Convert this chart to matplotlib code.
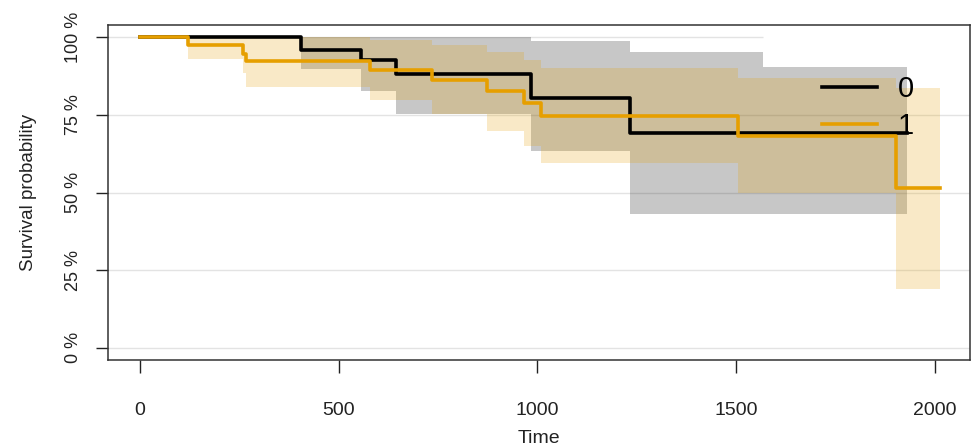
import matplotlib
matplotlib.use("Agg")
import matplotlib.pyplot as plt
from matplotlib.lines import Line2D

plt.rcParams['font.family'] = ['Liberation Sans', 'DejaVu Sans']

# ---- data ----
groups = ["0", "1"]

# group 0 (black)
time0 = [0, 405, 556, 644, 983, 1233]
surv0 = [100, 96.0, 92.7, 88.2, 80.5, 69.1]
end0 = 1930
band_time0 = [0, 405, 556, 644, 983, 1233, 1567]
upper0 = [100, 100, 100, 100, 99.0, 95.2, 90.4]
lower0 = [100, 89.7, 82.7, 75.3, 63.3, 43.2, 43.2]

# group 1 (orange)
time1 = [0, 121, 260, 266, 578, 736, 874, 966, 1008, 1504, 1903]
surv1 = [100, 97.5, 94.6, 92.3, 89.4, 86.2, 82.6, 78.7, 74.8, 68.2, 51.4]
end1 = 2012
upper1 = [100, 100, 100, 100, 99.1, 97.5, 95.4, 92.8, 90.2, 87.0, 83.7]
lower1 = [100, 92.9, 88.4, 84.1, 79.8, 75.2, 69.7, 64.9, 59.4, 49.7, 19.0]

x_ticks = [0, 500, 1000, 1500, 2000]
y_ticks = [0, 25, 50, 75, 100]
y_ticklabels = ["0 %", "25 %", "50 %", "75 %", "100 %"]

col0 = "black"
col1 = "#E69F00"

fig = plt.figure(figsize=(9.73, 4.46), dpi=100)
ax = fig.add_axes([108/973, 1-360/446, (970-108)/973, (360-25)/446])

# grid lines
for yv in y_ticks[:-1]:
    ax.axhline(yv, color="#E3E3E3", lw=1.0, zorder=0)
ax.hlines(100, -80, 1567, color="#E3E3E3", lw=1.0, zorder=0)

def ext(t, v, end):
    return list(t) + [end], list(v) + [v[-1]]

bt0, bu0 = ext(band_time0, upper0, end0)
_, bl0 = ext(band_time0, lower0, end0)
ax.fill_between(bt0, bl0, bu0, step="post", color="black", alpha=0.22, lw=0, zorder=1)

bt1, bu1 = ext(time1, upper1, end1)
_, bl1 = ext(time1, lower1, end1)
ax.fill_between(bt1, bl1, bu1, step="post", color=col1, alpha=0.22, lw=0, zorder=2)

lt0, ls0 = ext(time0, surv0, end0)
ax.plot(lt0, ls0, drawstyle="steps-post", color=col0, lw=2.6, zorder=3)
lt1, ls1 = ext(time1, surv1, end1)
ax.plot(lt1, ls1, drawstyle="steps-post", color=col1, lw=2.6, zorder=4)

ax.set_xlim(-80, 2088)
ax.set_ylim(-4, 104)

ax.set_xticks(x_ticks)
ax.set_xticklabels([str(v) for v in x_ticks])
ax.set_yticks(y_ticks)
ax.set_yticklabels(y_ticklabels)
ax.tick_params(axis="x", direction="out", length=9, width=1, pad=21, labelsize=14, colors="#222222")
ax.tick_params(axis="y", direction="out", length=9, width=1, pad=10, labelsize=13, colors="#222222")
for lab in ax.get_yticklabels():
    lab.set_rotation(90)
    lab.set_va("center")
    lab.set_ha("right")

for sp in ax.spines.values():
    sp.set_color("#333333")
    sp.set_linewidth(1.1)

ax.set_xlabel("Time", fontsize=14, labelpad=8, color="#222222")
ax.set_ylabel("Survival probability", fontsize=13.5, labelpad=20, color="#222222")

handles = [Line2D([], [], color=col0, lw=2.6), Line2D([], [], color=col1, lw=2.6)]
ax.legend(handles, groups, loc="upper left", bbox_to_anchor=(822/973, 1-75/446),
          bbox_transform=fig.transFigure, frameon=False, fontsize=21,
          handlelength=1.9, handletextpad=0.7, labelspacing=0.3,
          borderpad=0, borderaxespad=0)

fig.savefig("out.png", dpi=100)
